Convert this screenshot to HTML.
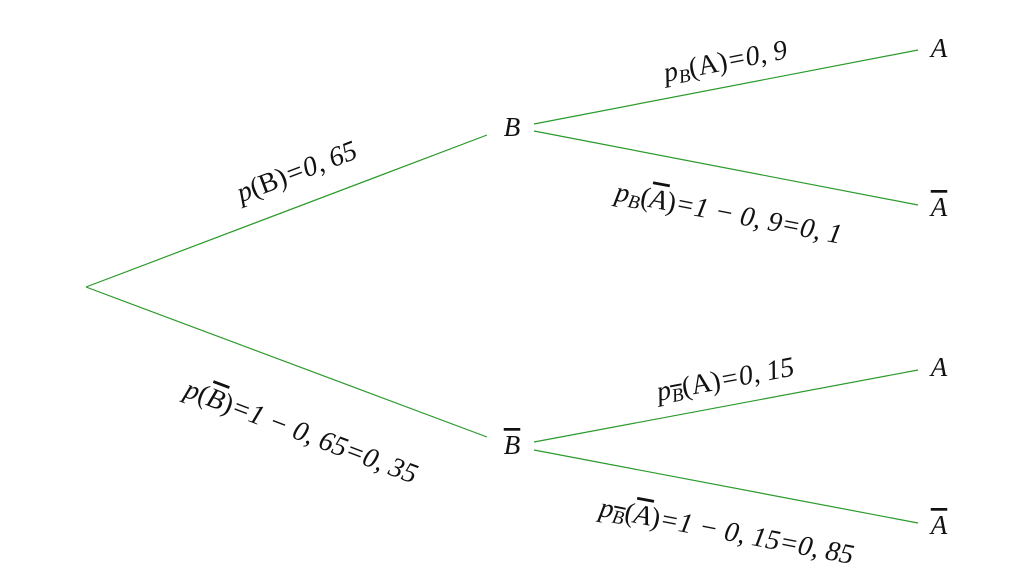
<!DOCTYPE html>
<html><head><meta charset="utf-8"><style>
html,body{margin:0;padding:0;background:#fff;}
svg{display:block}
text{font-family:"Liberation Serif","Times New Roman",serif;font-style:italic;fill:#111;}
.u{font-style:normal}
</style></head><body>
<svg width="1024" height="575" viewBox="0 0 1024 575">
<g stroke="#2a9a2a" stroke-width="1.2" fill="none">
<line x1="86" y1="287" x2="487" y2="135"/>
<line x1="86" y1="287" x2="487" y2="437"/>
<line x1="534" y1="124" x2="918" y2="50"/>
<line x1="534" y1="131" x2="918" y2="205"/>
<line x1="534" y1="442" x2="918" y2="370"/>
<line x1="534" y1="450" x2="918" y2="523"/>
</g>
<g font-size="27">
<text x="512" y="136" text-anchor="middle">B</text>
<text x="512" y="454" text-anchor="middle"><tspan text-decoration="overline">B</tspan></text>
<text x="939" y="57" text-anchor="middle">A</text>
<text x="939" y="216" text-anchor="middle"><tspan text-decoration="overline">A</tspan></text>
<text x="939" y="376" text-anchor="middle">A</text>
<text x="939" y="534" text-anchor="middle"><tspan text-decoration="overline">A</tspan></text>
</g>
<g font-size="28">
<text transform="translate(300,180) rotate(-20.8)" text-anchor="middle">p<tspan class="u">(B)</tspan>=0, 65</text>
<text transform="translate(298,440) rotate(20.8)" text-anchor="middle">p<tspan class="u">(</tspan><tspan text-decoration="overline">B</tspan><tspan class="u">)</tspan>=1 − 0, 65=0, 35</text>
<text transform="translate(727,70) rotate(-10.9)" text-anchor="middle">p<tspan font-size="19" dy="4">B</tspan><tspan class="u" dy="-4">(A)</tspan>=0, 9</text>
<text transform="translate(727,222) rotate(10.9)" text-anchor="middle">p<tspan font-size="19" dy="4">B</tspan><tspan class="u" dy="-4">(</tspan><tspan text-decoration="overline">A</tspan><tspan class="u">)</tspan>=1 − 0, 9=0, 1</text>
<text transform="translate(727,388) rotate(-10.6)" text-anchor="middle">p<tspan font-size="19" dy="4" text-decoration="overline">B</tspan><tspan class="u" dy="-4">(A)</tspan>=0, 15</text>
<text transform="translate(725,540) rotate(10.8)" text-anchor="middle">p<tspan font-size="19" dy="4" text-decoration="overline">B</tspan><tspan class="u" dy="-4">(</tspan><tspan text-decoration="overline">A</tspan><tspan class="u">)</tspan>=1 − 0, 15=0, 85</text>
</g>
</svg>
</body></html>
